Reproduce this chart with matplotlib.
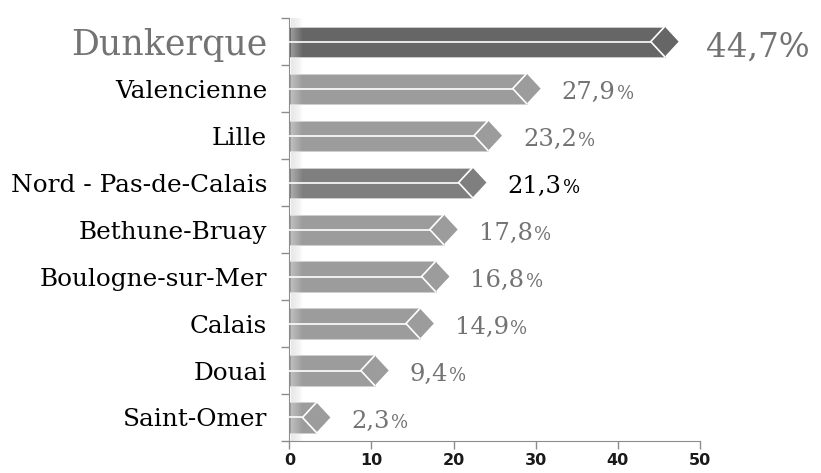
import matplotlib
matplotlib.use('Agg')
import matplotlib.pyplot as plt
import numpy as np
from matplotlib.patches import Polygon
from matplotlib.colors import LinearSegmentedColormap

# data (top to bottom)
villes = ['Dunkerque', 'Valencienne', 'Lille', 'Nord - Pas-de-Calais', 'Bethune-Bruay',
          'Boulogne-sur-Mer', 'Calais', 'Douai', 'Saint-Omer']
taux = [44.7, 27.9, 23.2, 21.3, 17.8, 16.8, 14.9, 9.4, 2.3]
x_ticks = [0, 10, 20, 30, 40, 50]

bar_cols = ['#666666', '#9c9c9c', '#9c9c9c', '#7f7f7f', '#9c9c9c',
            '#9c9c9c', '#9c9c9c', '#9c9c9c', '#9c9c9c']
gris = '#737373'

fig = plt.figure(figsize=(8.21, 4.73), dpi=100)
ax = fig.add_axes([0.3524, 0.0677, 0.5002, 0.894])

h = 0.64      # bar thickness
ext = 1.0     # bar body runs a bit past the value
hw = 1.7      # half width of the diamond end

y = np.arange(len(villes))
for i, (v, c) in enumerate(zip(taux, bar_cols)):
    end = v + ext
    ax.barh(i, end, height=h, color=c, edgecolor='#cfcfcf', linewidth=0.6, zorder=2)
    diam = Polygon([(end - hw, i), (end, i - h / 2), (end + hw, i), (end, i + h / 2)],
                   closed=True, facecolor=c, edgecolor='none', zorder=3)
    ax.add_patch(diam)
    # white highlight lines
    ax.plot([0, end - hw], [i, i], color='white', lw=1.2, zorder=4, solid_capstyle='butt')
    ax.plot([end, end - hw, end], [i - h / 2, i, i + h / 2], color='white', lw=1.2, zorder=4)

# soft shading along the axis wall
grad = np.linspace(1, 0, 50).reshape(1, -1)
gris_cm = LinearSegmentedColormap.from_list('g', [(0.85, 0.85, 0.85, 0), (0.85, 0.85, 0.85, 0.9)])
blanc_cm = LinearSegmentedColormap.from_list('w', [(1, 1, 1, 0), (1, 1, 1, 0.35)])
ax.imshow(grad, cmap=gris_cm, extent=(0.25, 1.6, len(villes) - 0.5, -0.5), aspect='auto', zorder=1)
ax.imshow(grad, cmap=blanc_cm, extent=(0.25, 1.6, len(villes) - 0.5, -0.5), aspect='auto', zorder=2.5)

fig.canvas.draw()
r = fig.canvas.get_renderer()
for i, v in enumerate(taux):
    tip = v + ext + hw
    num = f'{v:.1f}'.replace('.', ',')
    if i == 0:
        ax.annotate(num + '%', xy=(tip, i), xytext=(20, -10.5), textcoords='offset points',
                    va='baseline', ha='left', fontsize=23.5, color=gris,
                    family='DejaVu Serif', annotation_clip=False)
        continue
    col = 'black' if villes[i] == 'Nord - Pas-de-Calais' else gris
    t = ax.annotate(num, xy=(tip, i), xytext=(15, -7.5), textcoords='offset points',
                    va='baseline', ha='left', fontsize=17.5, color=col,
                    family='DejaVu Serif', annotation_clip=False)
    w = t.get_window_extent(r).width * 72 / fig.dpi
    ax.annotate('%', xy=(tip, i), xytext=(15 + w + 1, -7.5), textcoords='offset points',
                va='baseline', ha='left', fontsize=13, color=col,
                family='DejaVu Serif', annotation_clip=False)

ax.set_xlim(0, 50)
ax.set_ylim(len(villes) - 0.5, -0.5)

ax.set_yticks(y)
ax.set_yticklabels(villes, family='DejaVu Serif', fontsize=17.8, color='black')
lab0 = ax.get_yticklabels()[0]
lab0.set_fontsize(25)
lab0.set_color(gris)
ax.set_yticks(np.arange(-0.5, len(villes), 1), minor=True)
ax.tick_params(axis='y', which='major', length=0, pad=16)
ax.tick_params(axis='y', which='minor', length=6, color='#8c8c8c', width=1)

ax.set_xticks(x_ticks)
ax.set_xticklabels([str(t) for t in x_ticks], family='DejaVu Sans', fontsize=11.5,
                   color='#1a1a1a', fontweight='bold')
ax.tick_params(axis='x', length=6, color='#8c8c8c', width=1, pad=3)

for s in ['top', 'right']:
    ax.spines[s].set_visible(False)
for s in ['left', 'bottom']:
    ax.spines[s].set_color('#8c8c8c')

plt.savefig('out.png', dpi=100)
